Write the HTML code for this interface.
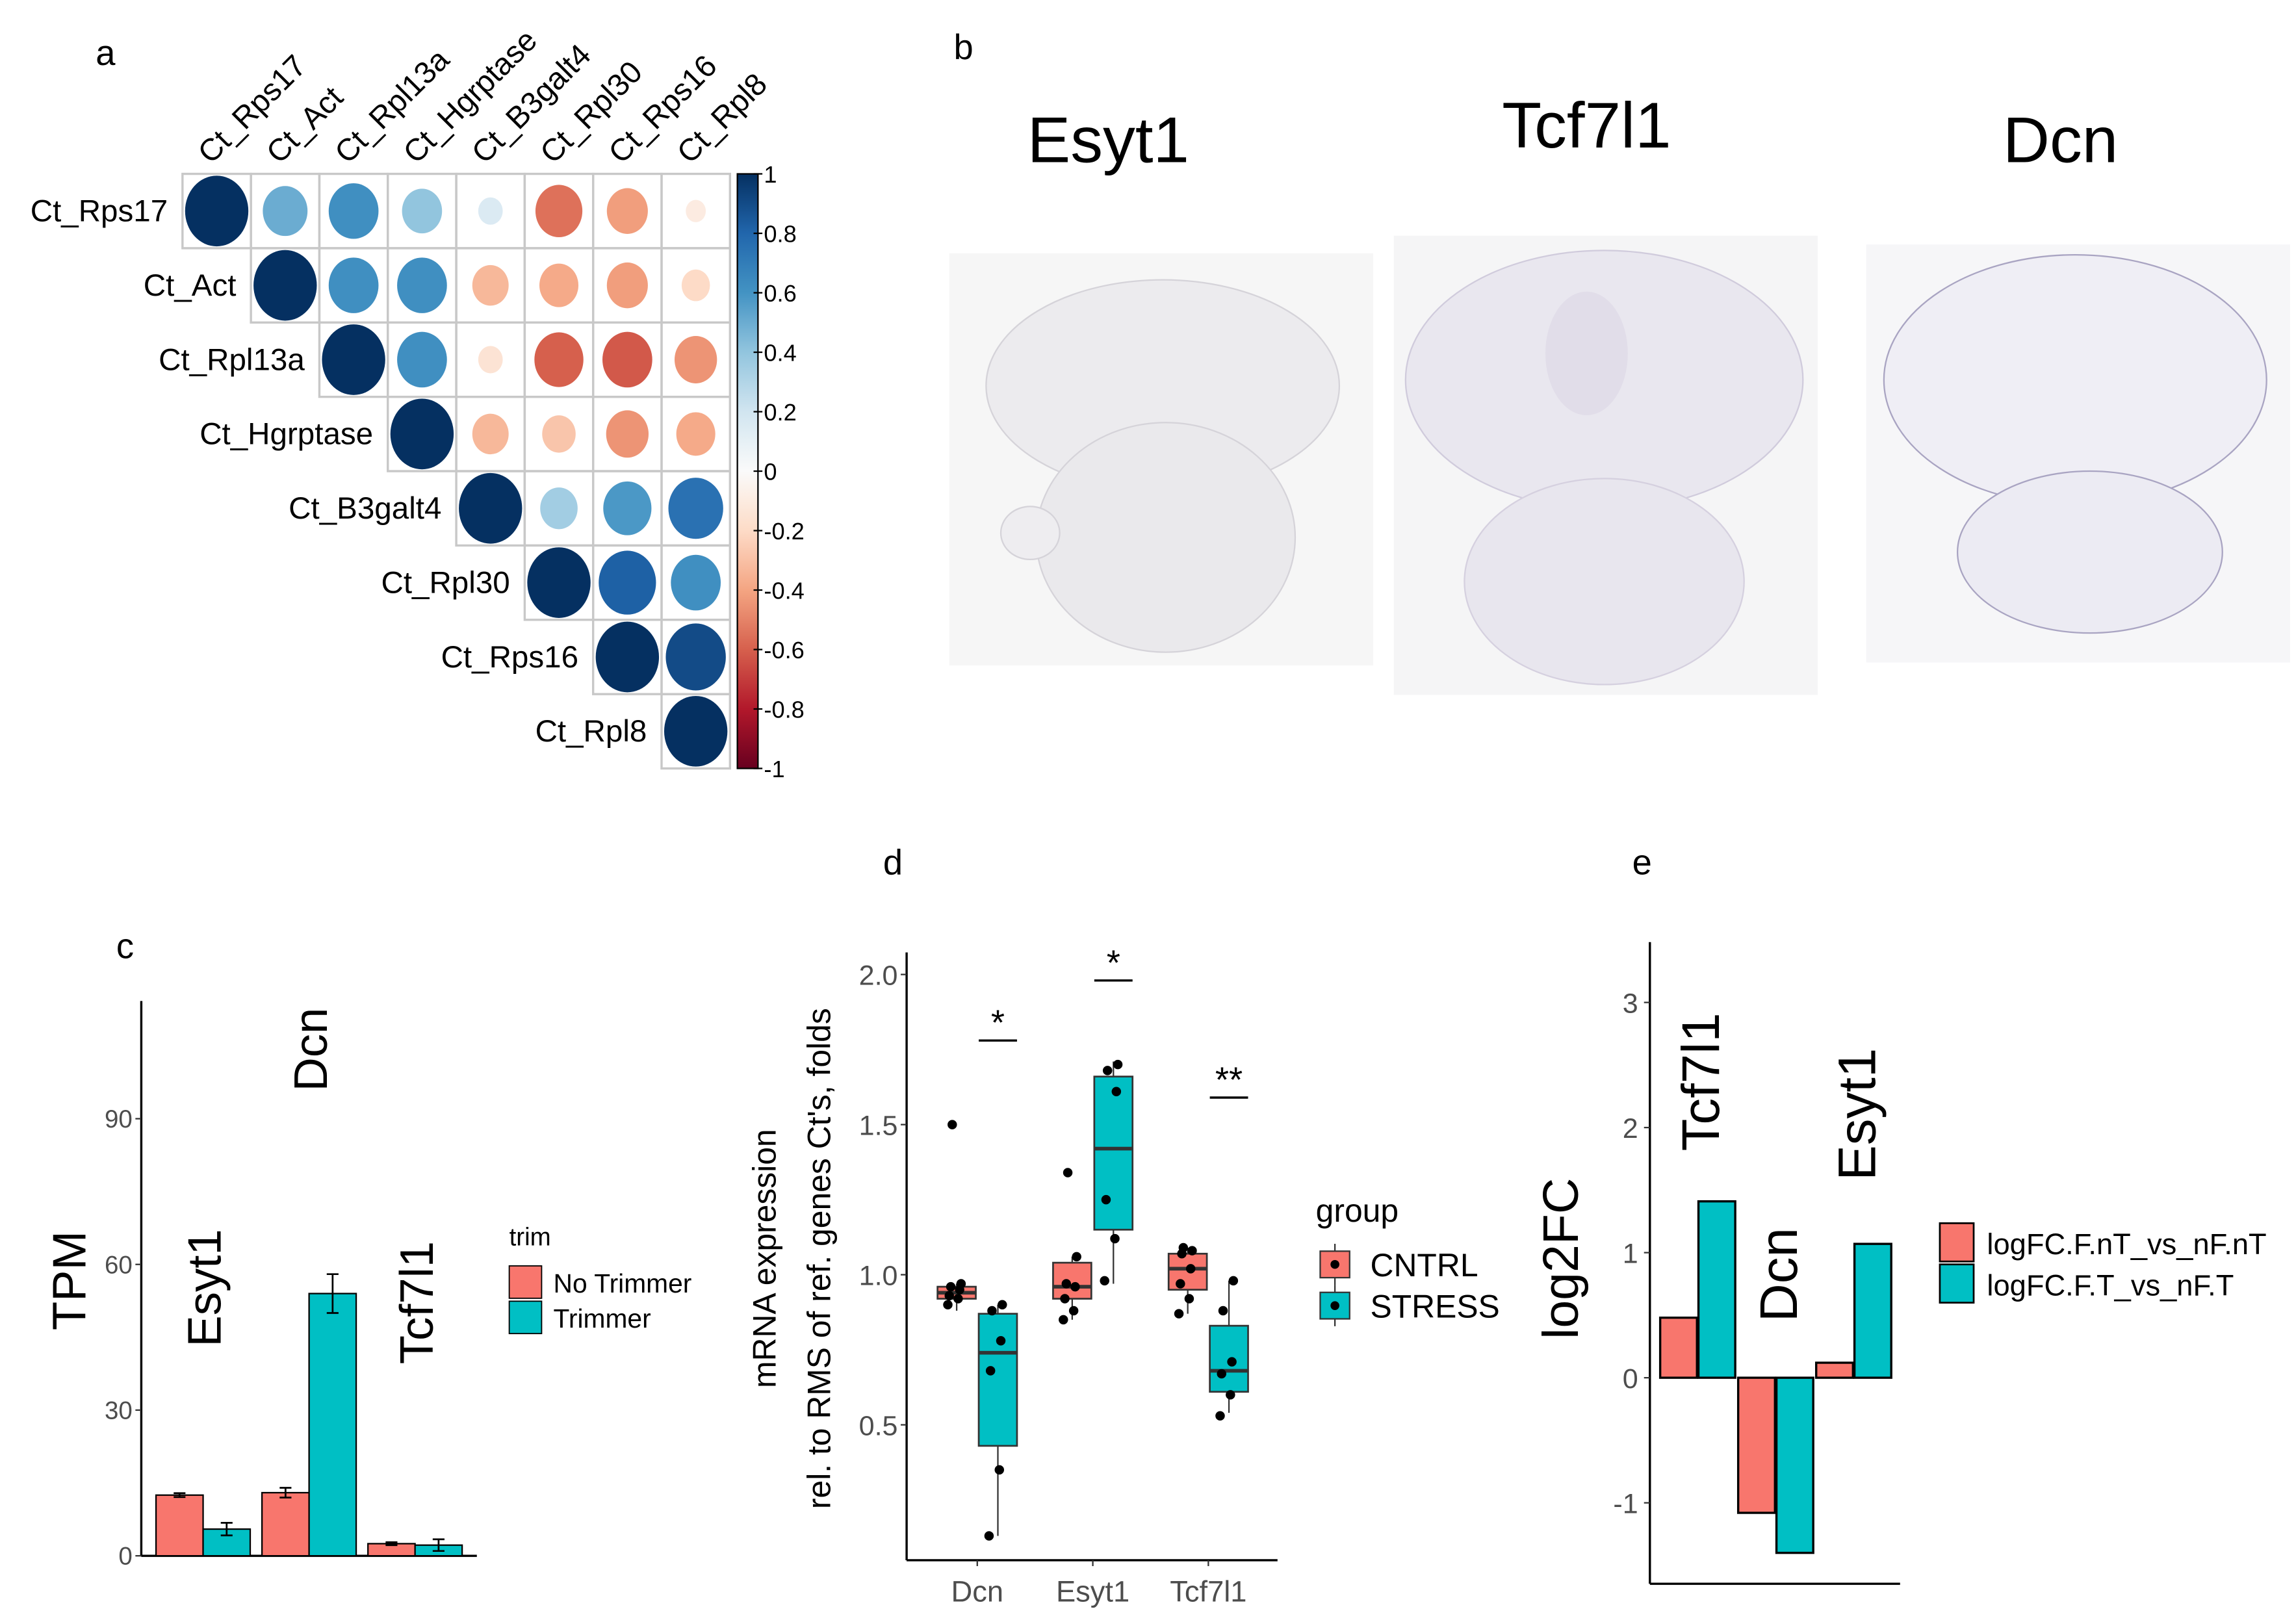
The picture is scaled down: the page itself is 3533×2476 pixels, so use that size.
<!DOCTYPE html>
<html><head><meta charset="utf-8"><style>
html,body{margin:0;padding:0;background:#fff}
svg{display:block;font-family:"Liberation Sans",sans-serif}
</style></head><body>
<svg id="fig" width="3533" height="2476" viewBox="0 0 1560 1093" xmlns="http://www.w3.org/2000/svg">
<rect width="1560" height="1093" fill="#fff"/>
<g id="pa"></g>
<g id="pb">
<text x="648" y="40" font-size="24">b</text>
<text x="753" y="110" font-size="44" text-anchor="middle">Esyt1</text>
<text x="1078" y="100" font-size="44" text-anchor="middle">Tcf7l1</text>
<text x="1400" y="110" font-size="44" text-anchor="middle">Dcn</text>
<g>
<rect x="645" y="172" width="288" height="280" fill="#f6f6f6"/>
<ellipse cx="790" cy="262" rx="120" ry="72" fill="#ecebee" stroke="#d5d3d9"/>
<ellipse cx="792" cy="365" rx="88" ry="78" fill="#eae9ec" stroke="#d5d3d9"/>
<ellipse cx="700" cy="362" rx="20" ry="18" fill="#eeedf0" stroke="#d5d3d9"/>
</g>
<g>
<rect x="947" y="160" width="288" height="312" fill="#f5f5f6"/>
<ellipse cx="1090" cy="258" rx="135" ry="88" fill="#e9e7ef" stroke="#d0cbdc"/>
<ellipse cx="1090" cy="395" rx="95" ry="70" fill="#e8e6ee" stroke="#d5d0df"/>
<ellipse cx="1078" cy="240" rx="28" ry="42" fill="#e1dde9"/>
</g>
<g>
<rect x="1268" y="166" width="288" height="284" fill="#f6f6f8"/>
<ellipse cx="1410" cy="258" rx="130" ry="85" fill="#efeef5" stroke="#a9a4c2"/>
<ellipse cx="1420" cy="375" rx="90" ry="55" fill="#ecebf3" stroke="#a9a4c2"/>
</g>
</g>
<g id="pc"></g>
<g id="pd"></g>
<g id="pe"></g>
</svg>
<script>
const NS="http://www.w3.org/2000/svg";
function mk(p,tag,a,txt){const e=document.createElementNS(NS,tag);for(const k in a)e.setAttribute(k,a[k]);if(txt!==undefined)e.textContent=txt;p.appendChild(e);return e;}

// ---------- Panel a data ----------
const genes=["Ct_Rps17","Ct_Act","Ct_Rpl13a","Ct_Hgrptase","Ct_B3galt4","Ct_Rpl30","Ct_Rps16","Ct_Rpl8"];
const corRow0=[1,0.5,0.62,0.4,0.15,-0.55,-0.42,-0.1];
const corRow1=[1,0.62,0.62,-0.33,-0.38,-0.42,-0.2];
const corRow2=[1,0.62,-0.15,-0.6,-0.62,-0.45];
const corRow3=[1,-0.33,-0.28,-0.45,-0.38];
const corRow4=[1,0.35,0.58,0.75];
const corRow5=[1,0.82,0.62];
const corRow6=[1,0.9];
const corRow7=[1];
const colorbarTicks=["1","0.8","0.6","0.4","0.2","0","-0.2","-0.4","-0.6","-0.8","-1"];
const corRows=[corRow0,corRow1,corRow2,corRow3,corRow4,corRow5,corRow6,corRow7];
const stops=[[-1,[103,0,31]],[-0.8,[178,24,43]],[-0.6,[214,96,77]],[-0.4,[244,165,130]],[-0.2,[253,219,199]],[0,[250,250,250]],[0.2,[209,229,240]],[0.4,[146,197,222]],[0.6,[67,147,195]],[0.8,[33,102,172]],[1,[5,48,97]]];
function cmap(v){for(let i=0;i<stops.length-1;i++){const a=stops[i],b=stops[i+1];if(v<=b[0]){const t=(v-a[0])/(b[0]-a[0]);return "rgb("+a[1].map((c,j)=>Math.round(c+(b[1][j]-c)*t)).join(",")+")";}}return "rgb(5,48,97)";}
(function(){
const g=document.getElementById('pa');
const x0=124,y0=118,cw=46.5,ch=50.5;
const cx=j=>x0+cw*(j+0.5), cy=i=>y0+ch*(i+0.5);
const lab=mk(g,'text',{x:65,y:44,'font-size':24},'a');


corRows.forEach((row,i)=>{
  row.forEach((v,k)=>{
    const j=i+k;
    const cell=mk(g,'rect',{x:x0+cw*j,y:y0+ch*i,width:cw,height:ch,fill:'none',stroke:'#c8c8c8','stroke-width':1.5});
    
    
    const r=Math.sqrt(Math.abs(v));
    const c=mk(g,'ellipse',{cx:cx(j),cy:cy(i),rx:r*21.5,ry:r*24,fill:cmap(v)});
    
    
  });
  const t=mk(g,'text',{x:x0+cw*i-10,y:cy(i)+7,'font-size':21,'text-anchor':'end'},genes[i]);
  
  
  const ct=mk(g,'text',{x:cx(i)-4,y:y0-6,'font-size':21,transform:`rotate(-45 ${cx(i)-4} ${y0-6})`},genes[i]);
  
  
});
const bx=501,bw=14,bt=118,bb=522;
const defs=mk(g,'defs',{});
const lg=mk(defs,'linearGradient',{id:'cbg',x1:0,y1:0,x2:0,y2:1});
for(let s=0;s<=20;s++){const v=1-s/10;mk(lg,'stop',{offset:s/20,'stop-color':cmap(v)});}
const bar=mk(g,'rect',{x:bx,y:bt,width:bw,height:bb-bt,fill:'url(#cbg)',stroke:'#000','stroke-width':1});


colorbarTicks.forEach((s,i)=>{
  const v=parseFloat(s);const y=bt+(1-v)/2*(bb-bt);
  mk(g,'line',{x1:bx+bw-3,x2:bx+bw+3,y1:y,y2:y,stroke:'#000'});
  const t=mk(g,'text',{x:bx+bw+4,y:y+6,'font-size':16},s);
  
  
});
})();

// ---------- Panel c data ----------
const tpmGenes=["Esyt1","Dcn","Tcf7l1"];
const tpmNoTrim=[12.5,13,2.5];
const tpmTrim=[5.5,54,2.2];
const tpmNoTrimErr=[0.4,1,0.3];
const tpmTrimErr=[1.3,4,1.2];
const tpmTicks=[0,30,60,90];
(function(){
const g=document.getElementById('pc');
const ax=96,base=1057,top=680,k=3.3;
const y=v=>base-v*k;
const gx=i=>138+72*i;
const lab=mk(g,'text',{x:79,y:651,'font-size':24},'c');


mk(g,'line',{x1:ax,x2:ax,y1:top,y2:base,stroke:'#000','stroke-width':1.5});
mk(g,'line',{x1:ax,x2:324,y1:base,y2:base,stroke:'#000','stroke-width':1.5});
tpmTicks.forEach(v=>{
  mk(g,'line',{x1:ax-4,x2:ax,y1:y(v),y2:y(v),stroke:'#333'});
  const t=mk(g,'text',{x:ax-6,y:y(v)+6,'font-size':17,fill:'#4d4d4d','text-anchor':'end'},v);
  
  
});
const yt=mk(g,'text',{x:58,y:870,'font-size':32,'text-anchor':'middle',transform:'rotate(-90 58 870)'},'TPM');


tpmGenes.forEach((n,i)=>{
  [[tpmNoTrim,tpmNoTrimErr,'#F8766D',-32],[tpmTrim,tpmTrimErr,'#00BFC4',0]].forEach(([vals,errs,col,off])=>{
    const v=vals[i],x=gx(i)+off;
    const b=mk(g,'rect',{x:x,y:y(v),width:32,height:v*k,fill:col,stroke:'#000','stroke-width':1});
    
    
    const e=errs[i],m=x+16;
    mk(g,'path',{d:`M${m-4} ${y(v+e)}H${m+4}M${m} ${y(v+e)}V${y(v-e)}M${m-4} ${y(v-e)}H${m+4}`,stroke:'#000','stroke-width':1.2,fill:'none'});
  });
  const lx=gx(i)+12, ly=[875,713,885][i];
  const t=mk(g,'text',{x:lx,y:ly,'font-size':32,'text-anchor':'middle',transform:`rotate(-90 ${lx} ${ly})`},n);
  
  
});
const lt=mk(g,'text',{x:346,y:846,'font-size':17},'trim');


[['No Trimmer','#F8766D',860],['Trimmer','#00BFC4',884]].forEach(([s,c,yy])=>{
  const r=mk(g,'rect',{x:346,y:yy,width:22,height:22,fill:c,stroke:'#000','stroke-width':0.8});
  
  
  const t=mk(g,'text',{x:376,y:yy+18,'font-size':18},s);
  
  
});
})();

// ---------- Panel d data ----------
const boxGenes=["Dcn","Esyt1","Tcf7l1"];
const cntrlStats=[[0.88,0.92,0.94,0.96,0.97],[0.85,0.92,0.96,1.04,1.06],[0.87,0.95,1.02,1.07,1.09]];
const stressStats=[[0.13,0.43,0.74,0.87,0.9],[0.97,1.15,1.42,1.66,1.71],[0.54,0.61,0.68,0.83,0.98]];
const cntrlPoints=[[0.9,0.92,0.93,0.95,0.96,0.97,1.5],[0.85,0.88,0.92,0.96,0.97,1.06,1.34],[0.87,0.92,0.97,1.02,1.07,1.08,1.09]];
const stressPoints=[[0.13,0.35,0.68,0.78,0.88,0.9],[0.98,1.12,1.25,1.61,1.68,1.7],[0.53,0.6,0.67,0.71,0.88,0.98]];
const sigLabels=["*","*","**"];
const sigLevels=[1.78,1.98,1.59];
const boxTicks=[0.5,1.0,1.5,2.0];
(function(){
const g=document.getElementById('pd');
const y=v=>866-(v-1)*204;
const xc=i=>664+78.5*i;
const lab=mk(g,'text',{x:600,y:594,'font-size':24},'d');


mk(g,'line',{x1:616,x2:616,y1:647,y2:1060,stroke:'#000','stroke-width':1.5});
mk(g,'line',{x1:616,x2:868,y1:1060,y2:1060,stroke:'#000','stroke-width':1.5});
boxTicks.forEach(v=>{
  mk(g,'line',{x1:612,x2:616,y1:y(v),y2:y(v),stroke:'#333'});
  const t=mk(g,'text',{x:610,y:y(v)+7,'font-size':19,fill:'#4d4d4d','text-anchor':'end'},v.toFixed(1));
  
  
});
const t1=mk(g,'text',{x:527,y:855,'font-size':22,'text-anchor':'middle',transform:'rotate(-90 527 855)'},'mRNA expression');


const t2=mk(g,'text',{x:564,y:855,'font-size':22,'text-anchor':'middle',transform:'rotate(-90 564 855)'},"rel. to RMS of ref. genes Ct's, folds");


boxGenes.forEach((n,i)=>{
  mk(g,'line',{x1:xc(i),x2:xc(i),y1:1060,y2:1064,stroke:'#333'});
  const xt=mk(g,'text',{x:xc(i),y:1088,'font-size':20,fill:'#4d4d4d','text-anchor':'middle'},n);
  
  
  [[cntrlStats,cntrlPoints,'#F8766D',-14],[stressStats,stressPoints,'#00BFC4',14]].forEach(([st,pts,col,off])=>{
    const s=st[i],x=xc(i)+off;
    mk(g,'line',{x1:x,x2:x,y1:y(s[0]),y2:y(s[4]),stroke:'#333','stroke-width':1});
    const b=mk(g,'rect',{x:x-13,y:y(s[3]),width:26,height:y(s[1])-y(s[3]),fill:col,stroke:'#333','stroke-width':1.2});
    
    
    mk(g,'line',{x1:x-13,x2:x+13,y1:y(s[2]),y2:y(s[2]),stroke:'#333','stroke-width':2.5});
    pts[i].forEach((v,j)=>{
      const p=mk(g,'circle',{cx:x+((j*7)%13-6),cy:y(v),r:3.2,fill:'#000'});
      
      
    });
  });
  const sx=xc(i)+14,sy=y(sigLevels[i]);
  mk(g,'line',{x1:sx-13,x2:sx+13,y1:sy,y2:sy,stroke:'#000','stroke-width':1.5});
  const st=mk(g,'text',{x:sx,y:sy-4,'font-size':24,'text-anchor':'middle'},sigLabels[i]);
  
  
});
const lt=mk(g,'text',{x:894,y:830,'font-size':22},'group');


[['CNTRL','#F8766D',848],['STRESS','#00BFC4',876]].forEach(([s,c,yy])=>{
  mk(g,'line',{x1:907,x2:907,y1:yy-3,y2:yy+25,stroke:'#333'});
  const r=mk(g,'rect',{x:897,y:yy+2,width:20,height:18,fill:c,stroke:'#333'});
  
  
  mk(g,'circle',{cx:907,cy:yy+11,r:3,fill:'#000'});
  const t=mk(g,'text',{x:931,y:yy+19,'font-size':22},s);
  
  
});
})();

// ---------- Panel e data ----------
const fcGenes=["Tcf7l1","Dcn","Esyt1"];
const fcNoTrim=[0.48,-1.08,0.12];
const fcTrim=[1.41,-1.4,1.07];
const fcTicks=[-1,0,1,2,3];
(function(){
const g=document.getElementById('pe');
const y=v=>936-v*85;
const gx=i=>1154+53*i;
const lab=mk(g,'text',{x:1109,y:594,'font-size':24},'e');


mk(g,'line',{x1:1121,x2:1121,y1:640,y2:1076,stroke:'#000','stroke-width':1.5});
mk(g,'line',{x1:1121,x2:1291,y1:1076,y2:1076,stroke:'#000','stroke-width':1.5});
fcTicks.forEach(v=>{
  mk(g,'line',{x1:1117,x2:1121,y1:y(v),y2:y(v),stroke:'#333'});
  const t=mk(g,'text',{x:1113,y:y(v)+7,'font-size':19,fill:'#4d4d4d','text-anchor':'end'},v);
  
  
});
const yt=mk(g,'text',{x:1072,y:855,'font-size':34,'text-anchor':'middle',transform:'rotate(-90 1072 855)'},'log2FC');


fcGenes.forEach((n,i)=>{
  [[fcNoTrim,'#F8766D',-26],[fcTrim,'#00BFC4',0]].forEach(([vals,col,off])=>{
    const v=vals[i];
    const b=mk(g,'rect',{x:gx(i)+off,y:Math.min(y(v),y(0)),width:25,height:Math.abs(v)*85,fill:col,stroke:'#000','stroke-width':1.5});
    
    
  });
  const lx=gx(i)+14,ly=[735,866,757][i];
  const t=mk(g,'text',{x:lx,y:ly,'font-size':36,'text-anchor':'middle',transform:`rotate(-90 ${lx} ${ly})`},n);
  
  
});
[['logFC.F.nT_vs_nF.nT','#F8766D',831],['logFC.F.T_vs_nF.T','#00BFC4',859]].forEach(([s,c,yy])=>{
  const r=mk(g,'rect',{x:1318,y:yy,width:23,height:26,fill:c,stroke:'#000','stroke-width':1.2});
  
  
  const t=mk(g,'text',{x:1350,y:yy+21,'font-size':20},s);
  
  
});
})();
</script>
</body></html>
